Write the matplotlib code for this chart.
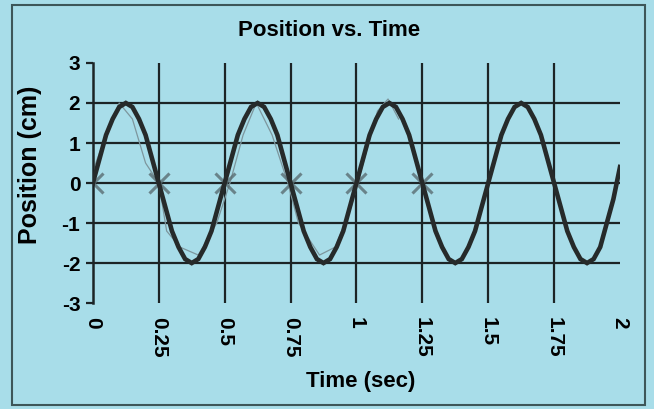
import matplotlib
import matplotlib.pyplot as plt
from matplotlib.patches import Rectangle

matplotlib.use("Agg")

# position vs time (step 0.025 s)
time_s = [i * 0.025 for i in range(81)]
position_cm = [
    0.0, 0.6, 1.2, 1.6, 1.9, 2.0, 1.9, 1.6, 1.2, 0.6,
    0.0, -0.6, -1.2, -1.6, -1.9, -2.0, -1.9, -1.6, -1.2, -0.6,
    0.0, 0.6, 1.2, 1.6, 1.9, 2.0, 1.9, 1.6, 1.2, 0.6,
    0.0, -0.6, -1.2, -1.6, -1.9, -2.0, -1.9, -1.6, -1.2, -0.6,
    0.0, 0.6, 1.2, 1.6, 1.9, 2.0, 1.9, 1.6, 1.2, 0.6,
    0.0, -0.6, -1.2, -1.6, -1.9, -2.0, -1.9, -1.6, -1.2, -0.6,
    0.0, 0.6, 1.2, 1.6, 1.9, 2.0, 1.9, 1.6, 1.2, 0.6,
    0.0, -0.6, -1.2, -1.6, -1.9, -2.0, -1.9, -1.6, -1.0, -0.4,
    0.4,
]

# faint pencil sketch drawn over the printout
sketch_t = [0.0, 0.05, 0.1, 0.15, 0.2, 0.25, 0.28, 0.33, 0.4, 0.47, 0.52,
            0.57, 0.62, 0.68, 0.74, 0.78, 0.86, 0.92, 0.98, 1.03, 1.08,
            1.12, 1.16]
sketch_y = [0.3, 1.2, 2.0, 1.6, 0.5, 0.0, -1.2, -1.6, -1.8, -1.0, 0.0,
            1.2, 2.0, 1.2, 0.0, -1.0, -1.8, -1.6, -0.6, 0.6, 1.8,
            2.1, 1.6]
cross_t = [0.0, 0.25, 0.5, 0.75, 1.0, 1.25]
cross_y = [0, 0, 0, 0, 0, 0]

xticks = [0, 0.25, 0.5, 0.75, 1, 1.25, 1.5, 1.75, 2]
xtick_labels = ["0", "0.25", "0.5", "0.75", "1", "1.25", "1.5", "1.75", "2"]
yticks = [-3, -2, -1, 0, 1, 2, 3]

bg = "#a8dde9"
plt.rcParams["font.family"] = ["Liberation Sans", "DejaVu Sans"]

fig = plt.figure(figsize=(6.54, 4.09), dpi=100, facecolor=bg)
ax = fig.add_axes([0.142, 0.259, 0.806, 0.587], facecolor=bg)

# gridlines
for yy in [-2, -1, 0, 1, 2]:
    ax.axhline(yy, color="#1c2426", lw=1.6, zorder=1)
for xx in xticks[1:-1]:
    ax.axvline(xx, color="#1c2426", lw=1.6, zorder=1)

ax.plot(sketch_t, sketch_y, color="#7d969d", lw=0.9, zorder=2)
ax.plot(cross_t, cross_y, ls="none", marker="x", ms=14, mew=2.2,
        color="#5a6d72", alpha=0.8, zorder=2)
ax.plot(time_s, position_cm, color="#262a2a", lw=3.3, zorder=3,
        solid_joinstyle="miter")

ax.set_xlim(0, 2)
ax.set_ylim(-3, 3)
ax.set_xticks(xticks)
ax.set_xticklabels(xtick_labels, rotation=-90, fontsize=15, fontweight="bold")
ax.set_yticks(yticks)
ax.set_yticklabels([str(v) for v in yticks], fontsize=15, fontweight="bold")
ax.tick_params(axis="x", length=0, pad=10)
ax.tick_params(axis="y", length=5, width=1.6, direction="out", color="#1c2426",
               pad=4)

for s in ["top", "right", "bottom"]:
    ax.spines[s].set_visible(False)
ax.spines["left"].set_linewidth(1.8)
ax.spines["left"].set_color("#1c2426")

fig.text(329 / 654, 1 - 30 / 409, "Position vs. Time", fontsize=16,
         fontweight="bold", ha="center", va="center")
fig.text(361 / 654, 1 - 382 / 409, "Time (sec)", fontsize=16,
         fontweight="bold", ha="center", va="center")
fig.text(30 / 654, 1 - 165 / 409, "Position (cm)", fontsize=18,
         fontweight="bold", ha="center", va="center", rotation=90)

# outer chart border
fig.patches.append(Rectangle((12 / 654, 4 / 409), 633 / 654, 400 / 409,
                             transform=fig.transFigure, fill=False,
                             edgecolor="#3d5659", lw=1.5))

fig.savefig("out.png", dpi=100, facecolor=bg)
